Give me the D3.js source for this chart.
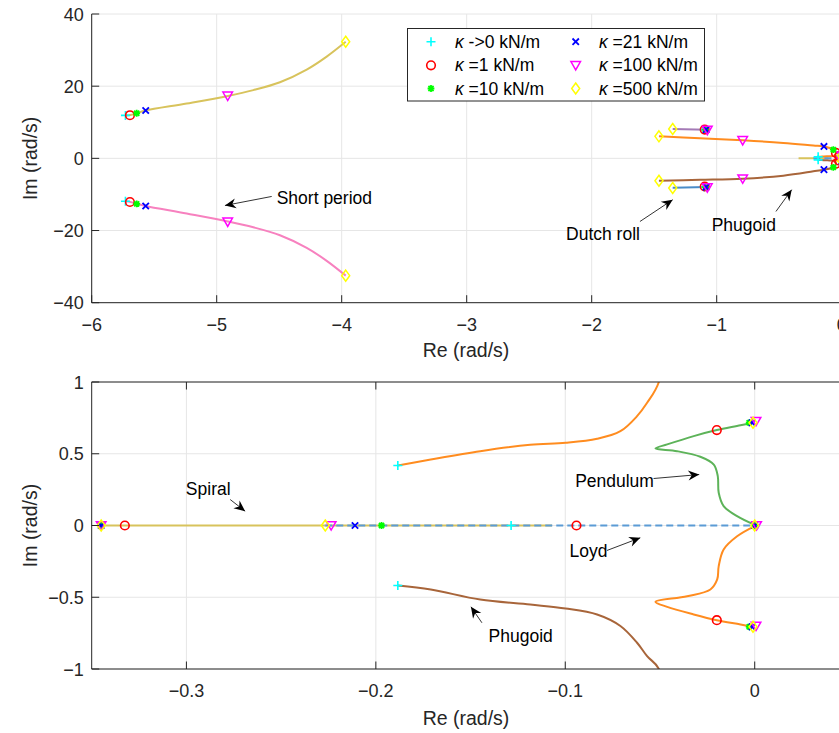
<!DOCTYPE html>
<html><head><meta charset="utf-8">
<script src="https://cdn.jsdelivr.net/npm/d3@7/dist/d3.min.js"></script>
<style>body{margin:0;background:#fff}svg{display:block}</style>
</head><body>
<svg id="chart" width="839" height="733"></svg>
<script>
// ---------------- DATA (Re, Im in rad/s) ----------------
const kappaLabels = ["->0 kN/m", "=1 kN/m", "=10 kN/m", "=21 kN/m", "=100 kN/m", "=500 kN/m"];
const topXTicks = [-6, -5, -4, -3, -2, -1, 0];
const topYTicks = [-40, -20, 0, 20, 40];
const botXTicks = [-0.3, -0.2, -0.1, 0];
const botYTicks = [-1, -0.5, 0, 0.5, 1];

const shortPeriodUpper = [[-5.73,11.9],[-5.69,12.0],[-5.64,12.5],[-5.57,13.25],[-5.24,15.2],[-4.91,17.3],[-4.707,18.9],[-4.494,21.1],[-4.28,24.6],[-4.12,28.2],[-3.968,32.3]];
const shortPeriodLower = [[-5.73,-11.9],[-5.69,-12.1],[-5.64,-12.6],[-5.57,-13.2],[-5.24,-15.3],[-4.91,-17.5],[-4.707,-19.1],[-4.494,-21.3],[-4.28,-24.8],[-4.12,-28.4],[-3.968,-32.5]];
const dutchRollUpper = [[-1.352,8.15],[-1.075,7.95]];
const dutchRollLower = [[-1.352,-8.15],[-1.075,-7.95]];
const phugoidUpper = [[-1.462,6.1],[-1.134,5.6],[-0.792,5.0],[-0.467,4.27],[-0.227,3.55],[-0.142,3.3],[-0.067,2.4],[-0.046,1.5],[-0.0506,1.0],[-0.0568,0.855],[-0.0621,0.762],[-0.0709,0.657],[-0.0832,0.604],[-0.0998,0.576],[-0.1185,0.562],[-0.1449,0.518],[-0.171,0.46],[-0.1884,0.418]];
const phugoidLower = [[-1.462,-6.2],[-1.134,-5.95],[-0.792,-5.64],[-0.467,-4.8],[-0.227,-3.6],[-0.142,-3.14],[-0.067,-2.5],[-0.046,-1.5],[-0.0506,-1.0],[-0.0568,-0.911],[-0.0621,-0.817],[-0.0709,-0.70],[-0.0832,-0.62],[-0.0998,-0.578],[-0.1185,-0.551],[-0.1449,-0.516],[-0.171,-0.446],[-0.1884,-0.418]];
const pendulumUpper = [[0,0.004],[-0.0093,0.065],[-0.0164,0.135],[-0.019,0.228],[-0.0195,0.344],[-0.0216,0.425],[-0.0287,0.479],[-0.041,0.518],[-0.0524,0.537],[-0.0462,0.565],[-0.0322,0.623],[-0.020,0.665],[-0.0075,0.698],[-0.0014,0.716]];
const pendulumLower = [[0,-0.004],[-0.0093,-0.075],[-0.0164,-0.167],[-0.019,-0.283],[-0.0198,-0.376],[-0.0234,-0.446],[-0.0357,-0.493],[-0.0524,-0.532],[-0.0462,-0.567],[-0.0322,-0.62],[-0.020,-0.66],[-0.0075,-0.69],[-0.0014,-0.706]];
const spiralLocus = [[-0.345,0],[-0.107,0]];
const loydLocus = [[-0.2267,0],[0,0]];

const kappa0Points   = [[-5.73,11.9],[-5.73,-11.9],[-1.10,7.97],[-1.10,-7.97],[-0.1884,0.418],[-0.1884,-0.418],[-0.1286,0],[0,0],[0.0005,0.0]];
const kappa1Points   = [[-5.694,11.95],[-5.694,-12.1],[-1.096,7.97],[-1.096,-7.8],[-0.046,1.5],[-0.046,-1.5],[-0.3325,0],[-0.0941,0],[-0.020,0.665],[-0.020,-0.66]];
const kappa10Points  = [[-5.64,12.5],[-5.64,-12.6],[-1.09,7.95],[-1.09,-7.95],[-0.067,2.4],[-0.067,-2.5],[-0.197,0],[-0.345,0],[-0.0029,0.716],[-0.0029,-0.706],[0,0]];
const kappa21Points  = [[-5.568,13.25],[-5.568,-13.2],[-1.085,7.95],[-1.085,-7.95],[-0.142,3.3],[-0.142,-3.14],[-0.211,0],[-0.345,0],[-0.0014,0.716],[-0.0014,-0.706],[0,0]];
const kappa100Points = [[-4.912,17.3],[-4.912,-17.6],[-1.075,7.85],[-1.075,-8.1],[-0.792,5.0],[-0.792,-5.64],[-0.2236,0],[-0.345,0],[0.0007,0.727],[0.0007,-0.70],[0.001,0]];
const kappa500Points = [[-3.968,32.3],[-3.968,-32.5],[-1.352,8.15],[-1.352,-8.2],[-1.462,6.1],[-1.462,-6.2],[-0.2267,0],[-0.345,0],[-0.0009,0.716],[-0.0009,-0.706],[0,0]];

// annotations: [text, textX, textY, tailX, tailY, tipX, tipY, anchor]
const topNotes = [
  ["Short period", -4.52, -10.9, -4.56, -10.56, -4.934, -13.06, "start"],
  ["Dutch roll", -1.614, -20.9, -1.614, -17.5, -1.352, -11.47, "end"],
  ["Phugoid", -1.04, -18.4, -0.526, -14.72, -0.40, -8.69, "start"]
];
const botNotes = [
  ["Spiral", -0.3003, 0.251, -0.2769, 0.181, -0.269, 0.0997, "start"],
  ["Pendulum", -0.0948, 0.309, -0.0534, 0.3275, -0.0293, 0.355, "start"],
  ["Loyd", -0.0978, -0.179, -0.078, -0.174, -0.0604, -0.0857, "start"],
  ["Phugoid", -0.1405, -0.771, -0.144, -0.678, -0.1498, -0.5666, "start"]
];

// ---------------- STYLE ----------------
const FONT = '"Liberation Sans", Arial, Helvetica, sans-serif';
const lines = [
  {d: shortPeriodUpper, c: "#d8c35c"},
  {d: shortPeriodLower, c: "#f781bf"},
  {d: dutchRollUpper, c: "#a47ab6"},
  {d: dutchRollLower, c: "#4a8cc8"},
  {d: spiralLocus, c: "#d8c35c"},
  {d: phugoidUpper, c: "#ff8c1f"},
  {d: phugoidLower, c: "#a8653a"},
  {d: pendulumUpper, c: "#5db359"},
  {d: pendulumLower, c: "#ff8c1f"},
  {d: loydLocus, c: "#5b9bd5", dash: "7,4"}
];
const markerSets = [
  {pts: kappa0Points, type: "plus", c: "#00ffff"},
  {pts: kappa1Points, type: "circle", c: "#ff0000"},
  {pts: kappa10Points, type: "star", c: "#00ff00"},
  {pts: kappa21Points, type: "cross", c: "#0000ff"},
  {pts: kappa100Points, type: "tri", c: "#ff00ff"},
  {pts: kappa500Points, type: "diamond", c: "#ffff00"}
];

const svg = d3.select("#chart");

function drawMarker(g, type, cx, cy, c) {
  if (type === "plus") {
    g.append("path").attr("d", `M${cx-4.5},${cy}H${cx+4.5}M${cx},${cy-4.5}V${cy+4.5}`).attr("stroke", c).attr("stroke-width", 1.6).attr("fill", "none");
  } else if (type === "circle") {
    g.append("circle").attr("cx", cx).attr("cy", cy).attr("r", 4.3).attr("stroke", c).attr("stroke-width", 1.6).attr("fill", "none");
  } else if (type === "star") {
    const s = 3.4;
    g.append("path").attr("d", `M${cx-s},${cy}H${cx+s}M${cx},${cy-s}V${cy+s}M${cx-s*0.75},${cy-s*0.75}L${cx+s*0.75},${cy+s*0.75}M${cx-s*0.75},${cy+s*0.75}L${cx+s*0.75},${cy-s*0.75}`).attr("stroke", c).attr("stroke-width", 1.8).attr("fill", "none");
  } else if (type === "cross") {
    const s = 3.2;
    g.append("path").attr("d", `M${cx-s},${cy-s}L${cx+s},${cy+s}M${cx-s},${cy+s}L${cx+s},${cy-s}`).attr("stroke", c).attr("stroke-width", 1.8).attr("fill", "none");
  } else if (type === "tri") {
    g.append("path").attr("d", `M${cx-4.8},${cy-3.8}L${cx+4.8},${cy-3.8}L${cx},${cy+4.6}Z`).attr("stroke", c).attr("stroke-width", 1.5).attr("fill", "none").attr("stroke-linejoin", "miter");
  } else if (type === "diamond") {
    g.append("path").attr("d", `M${cx},${cy-5.5}L${cx+4},${cy}L${cx},${cy+5.5}L${cx-4},${cy}Z`).attr("stroke", c).attr("stroke-width", 1.5).attr("fill", "none");
  }
}

function arrow(g, x1, y1, x2, y2) {
  g.append("line").attr("x1", x1).attr("y1", y1).attr("x2", x2).attr("y2", y2).attr("stroke", "#000").attr("stroke-width", 0.8);
  const ang = Math.atan2(y2 - y1, x2 - x1);
  const L = 11, W = 5, back = 7.5;
  const ux = Math.cos(ang), uy = Math.sin(ang), px = -uy, py = ux;
  const bx = x2 - ux * L, by = y2 - uy * L;
  const nx = x2 - ux * back, ny = y2 - uy * back;
  g.append("path").attr("d", `M${x2},${y2}L${bx + px*W},${by + py*W}L${nx},${ny}L${bx - px*W},${by - py*W}Z`).attr("fill", "#000");
}

function panel(cfg) {
  const {x, y, xTicks, yTicks, xFmt, yFmt, box, id, notes, xLabelY, markerFilter} = cfg;
  const [L, R] = x.range(); const [B, T] = y.range();
  const g = svg.append("g");
  // grid
  g.selectAll(null).data(xTicks).enter().append("line")
    .attr("x1", d => x(d)).attr("x2", d => x(d)).attr("y1", T).attr("y2", B)
    .attr("stroke", "#e6e6e6").attr("stroke-width", 1);
  g.selectAll(null).data(yTicks).enter().append("line")
    .attr("x1", L).attr("x2", R).attr("y1", d => y(d)).attr("y2", d => y(d))
    .attr("stroke", "#e6e6e6").attr("stroke-width", 1);
  // clip
  svg.append("clipPath").attr("id", id).append("rect").attr("x", L).attr("y", T).attr("width", R - L).attr("height", B - T);
  const data = g.append("g").attr("clip-path", `url(#${id})`);
  const lineGen = d3.line().x(d => x(d[0])).y(d => y(d[1])).curve(d3.curveCatmullRom.alpha(0.5));
  lines.forEach(l => {
    data.append("path").attr("d", lineGen(l.d)).attr("fill", "none").attr("stroke", l.c)
      .attr("stroke-width", 2).attr("stroke-dasharray", l.dash || null);
  });
  const mk = g.append("g");
  markerSets.forEach(ms => {
    ms.pts.filter(markerFilter).forEach(p => {
      const cx = x(p[0]), cy = y(p[1]);
      if (cx >= L - 1 && cx <= R + 1 && cy >= T - 1 && cy <= B + 1) drawMarker(mk, ms.type, cx, cy, ms.c);
    });
  });
  // axes
  const ax = g.append("g").attr("stroke", "#262626").attr("stroke-width", 1).attr("fill", "none");
  ax.append("line").attr("x1", L).attr("x2", L).attr("y1", T).attr("y2", B);
  ax.append("line").attr("x1", L).attr("x2", R).attr("y1", B).attr("y2", B);
  if (box) {
    ax.append("line").attr("x1", L).attr("x2", R).attr("y1", T).attr("y2", T);
    ax.append("line").attr("x1", R).attr("x2", R).attr("y1", T).attr("y2", B);
  }
  const tl = 7.5;
  xTicks.forEach(t => {
    ax.append("line").attr("x1", x(t)).attr("x2", x(t)).attr("y1", B).attr("y2", B - tl);
    if (box) ax.append("line").attr("x1", x(t)).attr("x2", x(t)).attr("y1", T).attr("y2", T + tl);
  });
  yTicks.forEach(t => {
    ax.append("line").attr("x1", L).attr("x2", L + tl).attr("y1", y(t)).attr("y2", y(t));
  });
  const lab = g.append("g").attr("font-family", FONT).attr("fill", "#262626");
  xTicks.forEach(t => {
    lab.append("text").attr("x", x(t)).attr("y", B + 28).attr("text-anchor", "middle").attr("font-size", 18).text(xFmt(t));
  });
  yTicks.forEach(t => {
    lab.append("text").attr("x", L - 8).attr("y", y(t) + 6.5).attr("text-anchor", "end").attr("font-size", 18).text(yFmt(t));
  });
  lab.append("text").attr("x", 466).attr("y", xLabelY).attr("text-anchor", "middle").attr("font-size", 19.5).text("Re (rad/s)");
  lab.append("text").attr("transform", `translate(37,${(T + B) / 2}) rotate(-90)`).attr("text-anchor", "middle").attr("font-size", 19.5).text("Im (rad/s)");
  // annotations
  const an = g.append("g");
  notes.forEach(n => {
    arrow(an, x(n[3]), y(n[4]), x(n[5]), y(n[6]));
    an.append("text").attr("x", x(n[1])).attr("y", y(n[2]) + 6).attr("text-anchor", n[7])
      .attr("font-family", FONT).attr("font-size", 17.5).attr("fill", "#000").text(n[0]);
  });
  return g;
}

const minus = v => (v < 0 ? "\u2212" : "") + Math.abs(v);

const xTop = d3.scaleLinear().domain([-6, 0]).range([91.7, 841.7]);
const yTop = d3.scaleLinear().domain([-40, 40]).range([302.7, 14]);
panel({x: xTop, y: yTop, xTicks: topXTicks, yTicks: topYTicks, xFmt: minus, yFmt: minus, box: false, id: "clipTop", notes: topNotes, xLabelY: 357,
  markerFilter: p => p[1] !== 0});

const xBot = d3.scaleLinear().domain([-0.35, 0.045]).range([91.7, 839.95]);
const yBot = d3.scaleLinear().domain([-1, 1]).range([669, 382]);
panel({x: xBot, y: yBot, xTicks: botXTicks, yTicks: botYTicks, xFmt: minus, yFmt: minus, box: true, id: "clipBot", notes: botNotes, xLabelY: 725,
  markerFilter: p => true});

// legend
const lg = svg.append("g");
lg.append("rect").attr("x", 407.5).attr("y", 28.5).attr("width", 297).attr("height", 72.5).attr("fill", "#fff").attr("stroke", "#262626").attr("stroke-width", 1);
const cols = [[431, 455], [575.7, 599]];
const rowsY = [41.7, 65.3, 88.5];
markerSets.forEach((ms, i) => {
  const col = Math.floor(i / 3), row = i % 3;
  drawMarker(lg, ms.type, cols[col][0], rowsY[row], ms.c);
  const t = lg.append("text").attr("x", cols[col][1]).attr("y", rowsY[row] + 6).attr("font-family", FONT).attr("font-size", 17.5).attr("fill", "#000");
  t.append("tspan").attr("font-style", "italic").text("\u03ba");
  t.append("tspan").text(" " + kappaLabels[i]);
});
</script>
</body></html>
